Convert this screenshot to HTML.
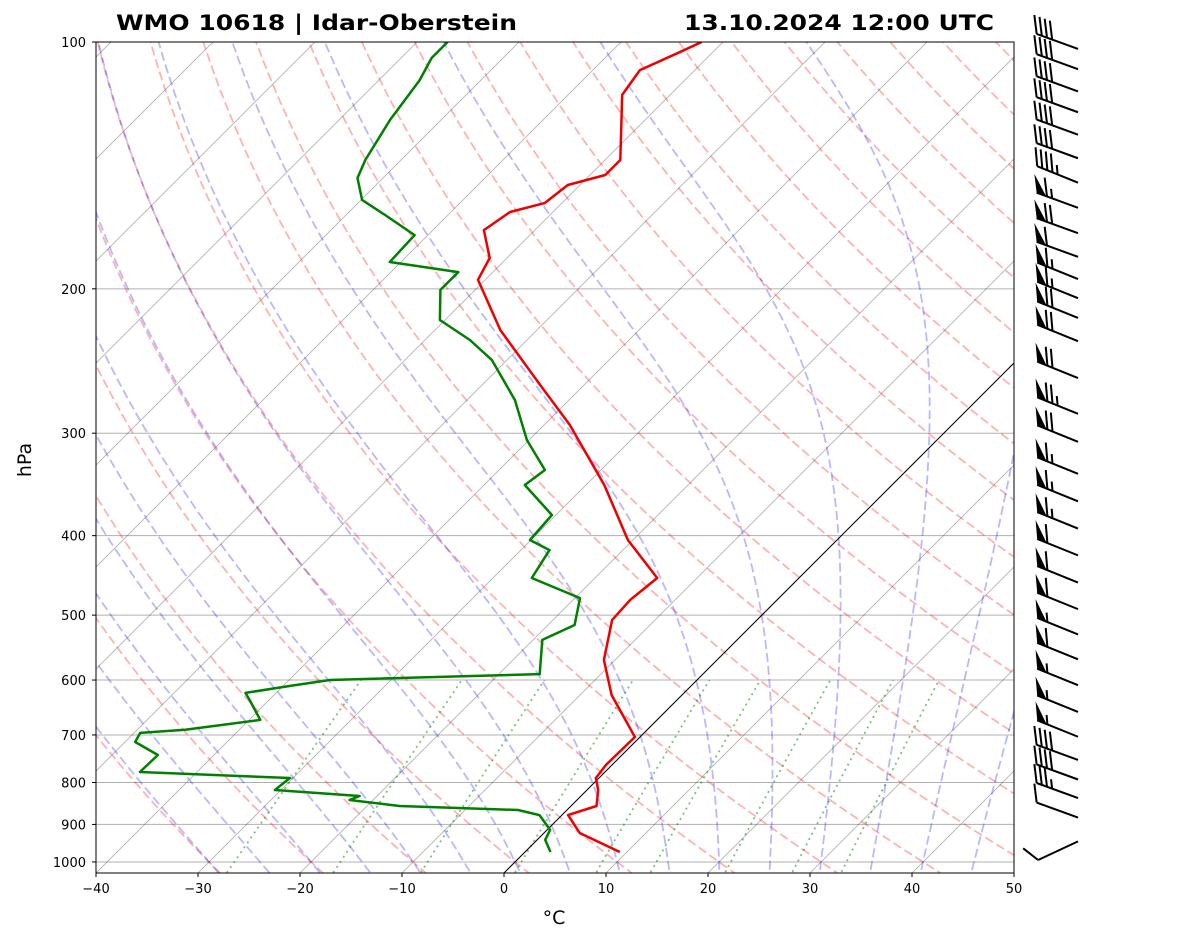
<!DOCTYPE html>
<html><head><meta charset="utf-8"><style>
html,body{margin:0;padding:0;background:#fff;}
svg{display:block;font-family:"DejaVu Sans","Liberation Sans",sans-serif;}
</style></head><body>
<svg id="chart" width="1181" height="941" viewBox="0 0 1181 941">
<defs><clipPath id="clip"><rect x="96" y="42" width="918" height="831"/></clipPath></defs>
<rect width="1181" height="941" fill="#fff"/>
<g id="bg" clip-path="url(#clip)"></g>
<g id="data" clip-path="url(#clip)"></g>
<rect x="96" y="42" width="918" height="831" fill="none" stroke="#000" stroke-width="1"/>
<g id="axes"></g>
<g id="barbs"></g>
<text x="116" y="30" font-size="21" font-weight="bold" textLength="401" lengthAdjust="spacingAndGlyphs">WMO 10618 | Idar-Oberstein</text>
<text x="684" y="30" font-size="21" font-weight="bold" textLength="310" lengthAdjust="spacingAndGlyphs">13.10.2024 12:00 UTC</text>
<text x="554" y="924" font-size="19" text-anchor="middle">°C</text>
<text x="31" y="460" font-size="19" text-anchor="middle" transform="rotate(-90 31 460)">hPa</text>
</svg>
<script>
const tempP=[972.5,922,876.6,854.6,817,790,761.6,704,625.7,567,507,479,450.5,404.9,347,293,262,224.5,195,183.4,169.6,161.2,157.2,149.4,145.3,139.3,116,108.2,102.8,100];
const tempT=[9.3,3.5,0.6,2.5,1.1,-0.3,-0.6,-0.5,-6.9,-11.1,-14.2,-14.4,-13.9,-20.5,-28.2,-37.5,-44.3,-53.6,-60.7,-61.7,-65,-64.2,-61.7,-61.2,-58.5,-58.5,-64.7,-65.4,-63.2,-62.1];
const dewP=[972.5,940,914,876.6,864.3,854.6,840.4,831,817,790,776.8,740.5,714,696,690,671,634.6,622,610,600,590,536,514,476.6,450.5,416.5,404.9,377.5,347,332.6,305.8,273.3,244.2,230.9,218.3,200.6,190.8,185.5,172,162.5,155.8,146.5,139.3,124.5,111.3,104.6,100];
const dewT=[2.5,0.8,0.3,-2.2,-4.8,-16.8,-22.3,-21.7,-30.6,-30.3,-45.6,-45.5,-49,-49.4,-45.3,-38.9,-41.9,-43,-39.3,-36,-16,-19.1,-17.4,-19.5,-26.2,-27.2,-30.1,-30.4,-36,-35.5,-40.2,-45.3,-51.5,-55.6,-60.5,-63.4,-63.4,-71.1,-71.3,-76.2,-79.9,-82.5,-83.5,-85,-86,-87,-87];
const barbP=[100,106,113,120,128,137,147,158,170,182,194,205,217,232,258,286,310,340,368,398,430,465,502,540,580,625,675,725,775,820,865,915,980];
const barbSpd=[40,40,40,40,40,40,45,65,70,60,65,65,70,70,70,75,70,65,65,65,60,60,60,55,60,55,55,55,40,40,35,10,10];
const barbDir=[290,290,290,290,290,290,292,290,290,290,292,292,292,292,292,292,292,292,292,292,292,292,292,292,292,292,292,292,290,290,290,290,245];
const xTicks=[-40,-30,-20,-10,0,10,20,30,40,50];
const yTicks=[100,200,300,400,500,600,700,800,900,1000];

const NS="http://www.w3.org/2000/svg";
const X0=96,YB=873,SX=10.2,YT=42,K=356.1;
function yP(p){return YT+K*Math.log(p/100);}
function xT(t,p){return X0+(t+40)*SX+(YB-yP(p));}
function mk(tag,attrs,parent){const e=document.createElementNS(NS,tag);for(const k in attrs)e.setAttribute(k,attrs[k]);parent.appendChild(e);return e;}
const bg=document.getElementById('bg'),dg=document.getElementById('data'),ax=document.getElementById('axes'),bb=document.getElementById('barbs');
function pathFrom(ps,ts){return ps.map((p,i)=>(i?'L':'M')+xT(ts[i],p).toFixed(1)+','+yP(ps[i]).toFixed(1)).join('');}
yTicks.forEach(p=>{const l=mk('line',{x1:96,x2:1014,y1:yP(p),y2:yP(p),stroke:'#b0b0b0','stroke-width':1},bg);

});
for(let t=-140;t<=60;t+=10){const l=mk('line',{x1:xT(t,1100),y1:yP(1100),x2:xT(t,90),y2:yP(90),stroke:'#000','stroke-opacity':0.3,'stroke-width':0.9},bg);

}
const lev=[];for(let p=1060;p>=95;p-=5)lev.push(p);
for(let th=243.15;th<=473.15;th+=10){const ts=lev.map(p=>th*Math.pow(p/1000,0.2857)-273.15);
const e=mk('path',{d:pathFrom(lev,ts),fill:'none',stroke:'#ff0000','stroke-opacity':0.3,'stroke-width':1.8,'stroke-dasharray':'9,4'},bg);

}
function es(tc){return 6.112*Math.exp(17.67*tc/(tc+243.5));}
function dTdp(T,p){const Rd=287.04,cp=1005.7,Lv=2.501e6,eps=0.622;const rs=eps*es(T-273.15)/(p-es(T-273.15));
return (Rd*T+Lv*rs)/(cp+Lv*Lv*rs*eps/(Rd*T*T))/p;}
for(let t0=-30;t0<=45;t0+=5){const res={};let T=t0+273.15;res[1000]=T;
for(let pp=1000;pp>95;pp-=1){T-=dTdp(T,pp)*1;res[pp-1]=T;}
T=t0+273.15;for(let pp=1000;pp<1060;pp+=1){T+=dTdp(T,pp);res[pp+1]=T;}
const ts=lev.map(p=>res[p]-273.15);
const e=mk('path',{d:pathFrom(lev,ts),fill:'none',stroke:'#0000ff','stroke-opacity':0.28,'stroke-width':1.8,'stroke-dasharray':'9,4'},bg);

}
const mix=[0.0004,0.001,0.002,0.004,0.007,0.01,0.016,0.024,0.032];
const mlev=lev.filter(p=>p>=600);
mix.forEach(w=>{const ts=mlev.map(p=>{const e=p*w/(0.622+w);const l=Math.log(e/6.112);return 243.5*l/(17.67-l);});
const e=mk('path',{d:pathFrom(mlev,ts),fill:'none',stroke:'#008000','stroke-opacity':0.5,'stroke-width':1.8,'stroke-dasharray':'2,4'},bg);

});
const z=mk('line',{x1:xT(0,1100),y1:yP(1100),x2:xT(0,90),y2:yP(90),stroke:'#000','stroke-width':1},bg);


const tp=mk('path',{d:pathFrom(tempP,tempT),fill:'none',stroke:'#ee0000','stroke-width':2.5,'stroke-linejoin':'round'},dg);


const dp=mk('path',{d:pathFrom(dewP,dewT),fill:'none',stroke:'#008000','stroke-width':2.5,'stroke-linejoin':'round'},dg);


xTicks.forEach(t=>{const x=X0+(t+40)*SX;
const tk=mk('line',{x1:x,x2:x,y1:873,y2:877,stroke:'#000'},ax);


const tx=mk('text',{x:x,y:893,'font-size':13,'text-anchor':'middle'},ax);tx.textContent=(t<0?'\u2212'+(-t):t);

});
yTicks.forEach(p=>{const y=yP(p);
const tk=mk('line',{x1:92,x2:96,y1:y,y2:y,stroke:'#000'},ax);


const tx=mk('text',{x:86,y:y+5,'font-size':13,'text-anchor':'end'},ax);tx.textContent=p;

});
const BX=1078,SL=44,BL=19,GAP=5.5;
barbP.forEach((p,i)=>{const y=yP(p)*0.975+8;const d=barbDir[i]*Math.PI/180;
const ux=Math.sin(d),uy=-Math.cos(d);
const tx=BX+ux*SL,ty=y+uy*SL;
const g=mk('g',{},bb);


mk('line',{x1:BX,y1:y,x2:tx,y2:ty,stroke:'#000','stroke-width':2},g);
const a=Math.atan2(uy,ux)+1.1;const bx=Math.cos(a)*BL,by=Math.sin(a)*BL;
let s=Math.round(barbSpd[i]/5)*5;let pos=0;
while(s>=50){const x1=tx-ux*pos,y1=ty-uy*pos,x2=tx-ux*(pos+10),y2=ty-uy*(pos+10);
mk('polygon',{points:`${x1},${y1} ${x1+bx},${y1+by} ${x2},${y2}`,fill:'#000'},g);pos+=11;s-=50;}
while(s>=10){const x1=tx-ux*pos,y1=ty-uy*pos;mk('line',{x1:x1,y1:y1,x2:x1+bx,y2:y1+by,stroke:'#000','stroke-width':2},g);pos+=GAP;s-=10;}
if(s>=5){if(pos===0)pos=GAP;const x1=tx-ux*pos,y1=ty-uy*pos;mk('line',{x1:x1,y1:y1,x2:x1+bx/2,y2:y1+by/2,stroke:'#000','stroke-width':2},g);}
});
</script>
</body></html>
